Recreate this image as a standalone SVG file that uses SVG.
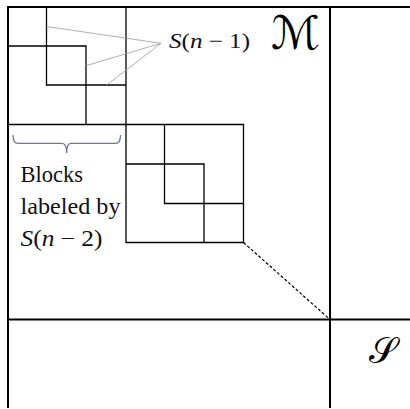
<svg xmlns="http://www.w3.org/2000/svg" width="410" height="409" viewBox="0 0 410 409">
<style>
.frame{stroke:#000;stroke-width:2;fill:none}
.blk{stroke:#000;stroke-width:1.3;fill:none}
.ptr{stroke:#9a9a9a;stroke-width:0.8;fill:none}
.dash{stroke:#000;stroke-width:1.2;stroke-dasharray:3,2;fill:none}
.brace{stroke:#6a7795;stroke-width:1.3;fill:none}
text.t{fill:#111}
.it{font-style:italic}
.cal{font-family:"DejaVu Sans",sans-serif;fill:#000}
</style>
<rect width="410" height="409" fill="#fff"/>
<g id="frame">
<path class="frame" d="M8,408 V7 H410 M330,7 V408 M8,319.5 H410"/>
</g>
<g id="block1">
<path class="blk" d="M126,7 V124.5 H8 M8,46 H86 V124.5 M46.5,7 V85 H126"/>
</g>
<g id="block2">
<path class="blk" d="M126,124.5 H243.5 V242.5 H126 Z M126,164 H204 V242.5 M164.5,124.5 V203.5 H243.5"/>
</g>
<g id="connectors">
<path class="ptr" d="M46.5,26.5 L161,43.3 M86,65.7 L161,43.3 M106.7,85 L161,43.3"/>
<path class="dash" d="M243.5,242.5 L330,319.5"/>
<path class="brace" d="M13,135 Q13,143.3 18,143.3 H62 Q66.7,143.3 66.7,153 Q66.7,143.3 71,143.3 H115.5 Q120.5,143.3 120.5,135"/>
</g>
<g id="labels" font-family="'Liberation Serif', 'Times New Roman', serif">
<text class="t" x="169" y="48" font-size="21" textLength="81" lengthAdjust="spacingAndGlyphs"><tspan class="it">S</tspan>(<tspan class="it">n</tspan> − 1)</text>
<text class="cal" x="271" y="49" font-size="46">ℳ</text>
<text class="cal" x="369" y="363" font-size="36">𝒮</text>
<text class="t" x="20.5" y="181.7" font-size="22.5">Blocks</text>
<text class="t" x="20.5" y="214" font-size="22.5" textLength="100" lengthAdjust="spacingAndGlyphs">labeled by</text>
<text class="t" x="20.5" y="245.5" font-size="22.5" textLength="82" lengthAdjust="spacingAndGlyphs"><tspan class="it">S</tspan>(<tspan class="it">n</tspan> − 2)</text>
</g>
</svg>
